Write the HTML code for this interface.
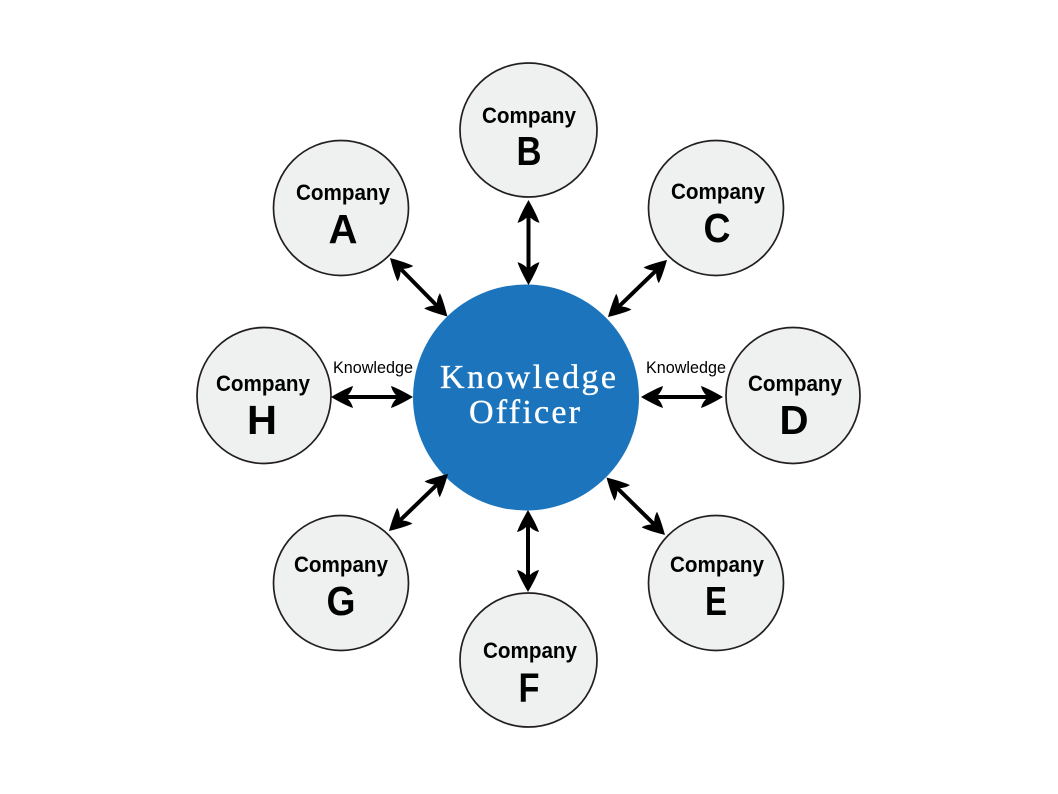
<!DOCTYPE html>
<html>
<head>
<meta charset="utf-8">
<style>
html,body{margin:0;padding:0;background:#fff;width:1058px;height:794px;overflow:hidden}
svg{display:block}
.c{font:bold 22.5px "Liberation Sans",sans-serif;fill:#000;text-anchor:start}
.l{font:bold 41px "Liberation Sans",sans-serif;fill:#000;text-anchor:middle}
.k{font:16.5px "Liberation Sans",sans-serif;fill:#000}
.o{font:34px "Liberation Serif",serif;fill:#fff;stroke:#fff;stroke-width:.35}
ellipse.n{fill:#eff1f1;stroke:#231f20;stroke-width:1.7}
</style>
</head>
<body>
<svg width="1058" height="794" viewBox="0 0 1058 794" xmlns="http://www.w3.org/2000/svg">
<defs>
<path id="a" fill="#000" d="M0 0C6 3.5 15 8.5 22 11C21 7 19 4 17 2L65 2C63 4 61 7 60 11C67 8.5 76 3.5 82 0C76 -3.5 67 -8.5 60 -11C61 -7 63 -4 65 -2L17 -2C19 -4 21 -7 22 -11C15 -8.5 6 -3.5 0 0Z"/>
</defs>

<ellipse class="n" cx="341" cy="208" rx="67.5" ry="67.5"/>
<ellipse class="n" cx="528.5" cy="130" rx="68.5" ry="67"/>
<ellipse class="n" cx="716" cy="208" rx="67.5" ry="67.5"/>
<ellipse class="n" cx="793" cy="395.5" rx="67" ry="68"/>
<ellipse class="n" cx="716" cy="583" rx="67.5" ry="67.5"/>
<ellipse class="n" cx="528.5" cy="660" rx="68.5" ry="67"/>
<ellipse class="n" cx="341" cy="583" rx="67.5" ry="67.5"/>
<ellipse class="n" cx="264" cy="395.5" rx="67" ry="68"/>

<circle cx="526" cy="397.5" r="113" fill="#1c75bc"/>

<use href="#a" transform="translate(528.5 200) rotate(90) scale(1.037 1)"/>
<use href="#a" transform="translate(528 510) rotate(90)"/>
<use href="#a" transform="translate(331 397)"/>
<use href="#a" transform="translate(641 397)"/>
<use href="#a" transform="translate(390 258) rotate(45.5)"/>
<use href="#a" transform="translate(667 260) rotate(136)"/>
<use href="#a" transform="translate(665 535) rotate(-135.5)"/>
<use href="#a" transform="translate(389 531) rotate(-44)"/>

<text class="c" x="296" y="200" textLength="94" lengthAdjust="spacingAndGlyphs">Company</text>
<text class="l" x="343" y="243" textLength="29" lengthAdjust="spacingAndGlyphs">A</text>
<text class="c" x="482" y="123" textLength="94" lengthAdjust="spacingAndGlyphs">Company</text>
<text class="l" x="529" y="165" textLength="25" lengthAdjust="spacingAndGlyphs">B</text>
<text class="c" x="671" y="199" textLength="94" lengthAdjust="spacingAndGlyphs">Company</text>
<text class="l" x="717" y="242" textLength="27" lengthAdjust="spacingAndGlyphs">C</text>
<text class="c" x="748" y="391" textLength="94" lengthAdjust="spacingAndGlyphs">Company</text>
<text class="l" x="794" y="434" textLength="29" lengthAdjust="spacingAndGlyphs">D</text>
<text class="c" x="670" y="572" textLength="94" lengthAdjust="spacingAndGlyphs">Company</text>
<text class="l" x="716" y="615" textLength="22" lengthAdjust="spacingAndGlyphs">E</text>
<text class="c" x="483" y="658" textLength="94" lengthAdjust="spacingAndGlyphs">Company</text>
<text class="l" x="529" y="702" textLength="21" lengthAdjust="spacingAndGlyphs">F</text>
<text class="c" x="294" y="572" textLength="94" lengthAdjust="spacingAndGlyphs">Company</text>
<text class="l" x="341" y="615" textLength="29" lengthAdjust="spacingAndGlyphs">G</text>
<text class="c" x="216" y="391" textLength="94" lengthAdjust="spacingAndGlyphs">Company</text>
<text class="l" x="262" y="434" textLength="30" lengthAdjust="spacingAndGlyphs">H</text>

<text class="k" x="333" y="373" textLength="80" lengthAdjust="spacingAndGlyphs">Knowledge</text>
<text class="k" x="646" y="373" textLength="80" lengthAdjust="spacingAndGlyphs">Knowledge</text>

<text class="o" x="440" y="388" textLength="176" lengthAdjust="spacing">Knowledge</text>
<text class="o" x="469" y="423" textLength="111" lengthAdjust="spacing">Officer</text>
</svg>
</body>
</html>
